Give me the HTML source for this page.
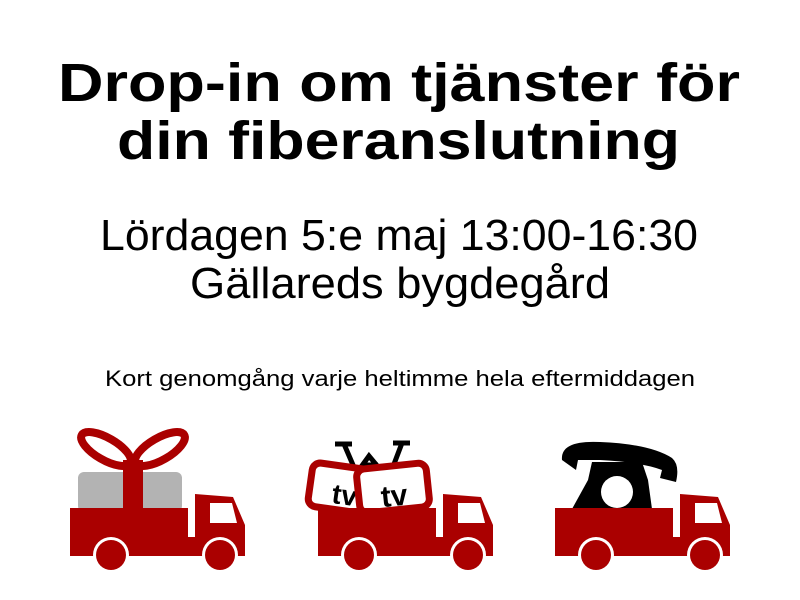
<!DOCTYPE html>
<html><head><meta charset="utf-8"><style>html,body{margin:0;padding:0;background:#fff}svg{display:block}</style></head>
<body>
<svg width="800" height="600" viewBox="0 0 800 600" xmlns="http://www.w3.org/2000/svg">
<g font-family="Liberation Sans, sans-serif" fill="#000">
<text x="58" y="101" font-size="54" font-weight="bold" textLength="682" lengthAdjust="spacingAndGlyphs">Drop-in om tjänster för</text>
<text x="117" y="159" font-size="54" font-weight="bold" textLength="563" lengthAdjust="spacingAndGlyphs">din fiberanslutning</text>
<text x="100" y="250" font-size="44" textLength="598" lengthAdjust="spacingAndGlyphs">Lördagen 5:e maj 13:00-16:30</text>
<text x="190" y="298" font-size="44" textLength="420" lengthAdjust="spacingAndGlyphs">Gällareds bygdegård</text>
<text x="105" y="386" font-size="22" textLength="590" lengthAdjust="spacingAndGlyphs">Kort genomgång varje heltimme hela eftermiddagen</text>
</g>
<defs>
<g id="truck">
<rect x="70" y="508" width="118" height="29" fill="#aa0000"/>
<path d="M70 537 H195 V494 L233 497 L245 525 V556 H70 Z" fill="#aa0000"/>
<path d="M210 503 H232 L237 523 H210 Z" fill="#fff"/>
<circle cx="111" cy="555" r="18" fill="#fff"/>
<circle cx="111" cy="555" r="15" fill="#aa0000"/>
<circle cx="220" cy="555" r="18" fill="#fff"/>
<circle cx="220" cy="555" r="15" fill="#aa0000"/>
</g>
</defs>
<!-- truck 1 gift -->
<rect x="78" y="472" width="104" height="40" rx="6" fill="#b3b3b3"/>
<rect x="123" y="460" width="20" height="50" fill="#aa0000"/>
<ellipse cx="106" cy="449" rx="28" ry="11" transform="rotate(30 106 449)" fill="none" stroke="#aa0000" stroke-width="8"/>
<ellipse cx="160" cy="449" rx="28" ry="11" transform="rotate(-30 160 449)" fill="none" stroke="#aa0000" stroke-width="8"/>
<use href="#truck"/>
<!-- truck 2 tvs -->
<g stroke="#000" stroke-width="5" fill="none">
<path d="M335 444 H352 M344 444 L356 472"/>
<path d="M393 443 H410 M402 443 L391 472"/>
<path d="M356 474 L369 456 L384 474 M362 465 H378"/>
</g>
<rect x="310" y="466" width="60" height="44" rx="8" transform="rotate(8 340 488)" fill="#fff" stroke="#aa0000" stroke-width="7"/>
<text x="333" y="504" font-family="Liberation Sans, sans-serif" font-size="28" font-weight="bold" transform="rotate(8 340 488)">tv</text>
<rect x="358" y="466" width="70" height="44" rx="8" transform="rotate(-6 393 488)" fill="#fff" stroke="#aa0000" stroke-width="7"/>
<text x="380" y="506" font-family="Liberation Sans, sans-serif" font-size="30" font-weight="bold" transform="rotate(-6 393 488)">tv</text>
<use href="#truck" transform="translate(248 0)"/>
<!-- truck 3 phone -->
<path d="M572 509 L588 480 L592 462 H642 L648 480 L652 509 Z" fill="#000"/>
<circle cx="617" cy="492" r="16" fill="#fff"/>
<path d="M562 460 Q560 440 600 442 Q650 444 672 458 Q680 465 676 482 L660 478 L662 470 Q640 462 600 460 L578 460 L576 470 Z" fill="#000"/>
<use href="#truck" transform="translate(485 0)"/>
</svg>
</body></html>
